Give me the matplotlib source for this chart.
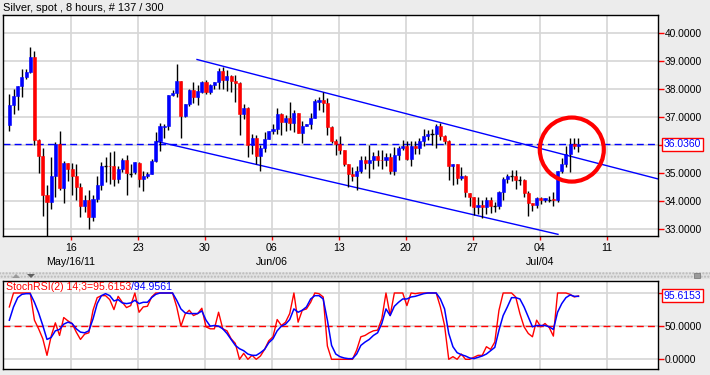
import matplotlib
matplotlib.use('Agg')
import matplotlib.pyplot as plt
import matplotlib.transforms as mtrans
from matplotlib.patches import Ellipse, Rectangle, Polygon
import numpy as np

plt.rcParams['font.family'] = ['Liberation Sans', 'DejaVu Sans']

# ---------------- data ----------------
title = "Silver, spot , 8 hours, # 137 / 300"
opens = [36.71, 37.43, 37.75, 38.11, 38.44, 38.62, 39.16, 36.17, 35.60, 34.20,
         33.96, 34.91, 36.03, 34.46, 35.36, 35.13, 34.89, 34.50, 33.84, 34.02,
         33.44, 34.08, 34.56, 35.25, 35.26, 35.25, 34.77, 35.15, 35.48, 34.98,
         35.03, 35.37, 34.79, 34.91, 34.97, 35.42, 36.15, 36.64, 36.70, 37.78,
         37.87, 38.29, 37.03, 37.46, 37.96, 37.72, 37.90, 38.25, 37.90, 38.14,
         38.25, 38.65, 38.32, 38.47, 38.29, 38.23, 37.10, 37.34, 35.99, 36.25,
         35.60, 35.89, 36.21, 36.49, 36.56, 37.10, 36.83, 36.98, 36.80, 37.13,
         36.45, 36.70, 36.74, 36.98, 37.55, 37.60, 37.51, 36.65, 36.15, 36.05,
         35.81, 35.31, 34.95, 34.89, 35.07, 35.48, 35.36, 35.48, 35.60, 35.48,
         35.46, 35.57, 35.09, 35.63, 35.89, 35.97, 35.51, 35.97, 35.89, 36.13,
         36.33, 36.38, 36.38, 36.67, 36.31, 36.15, 35.27, 35.31, 34.82, 34.91,
         34.30, 34.14, 33.78, 33.87, 33.78, 34.05, 33.84, 33.84, 34.32, 34.77,
         34.88, 34.88, 34.76, 34.76, 34.28, 33.92, 33.86, 34.11, 34.04, 34.05,
         34.07, 34.02, 35.06, 35.33, 35.69, 36.05, 35.97]
highs = [37.82, 37.99, 38.11, 38.72, 38.72, 39.52, 39.38, 36.20, 35.89, 34.59,
         35.57, 36.10, 36.49, 35.43, 35.37, 35.37, 35.31, 34.64, 34.20, 34.40,
         34.23, 34.91, 35.39, 35.57, 35.75, 35.78, 35.25, 35.55, 35.63, 35.33,
         35.40, 35.40, 35.09, 35.03, 35.51, 36.47, 36.79, 36.77, 37.80, 37.96,
         38.90, 38.30, 37.46, 37.99, 38.25, 38.15, 38.29, 38.32, 38.18, 38.26,
         38.74, 38.80, 38.68, 38.50, 38.50, 38.25, 37.46, 37.35, 36.40, 36.35,
         35.99, 36.47, 36.50, 36.77, 37.31, 37.16, 37.06, 37.55, 37.25, 37.16,
         36.86, 36.75, 37.13, 37.64, 37.72, 37.90, 37.70, 36.67, 36.23, 36.31,
         35.81, 35.33, 35.21, 35.27, 35.60, 35.60, 35.99, 35.75, 35.84, 35.81,
         35.72, 35.72, 35.93, 35.96, 36.19, 36.15, 36.15, 36.15, 36.27, 36.56,
         36.55, 36.59, 36.74, 36.79, 36.35, 36.17, 35.32, 35.32, 35.21, 34.92,
         34.30, 34.16, 34.16, 34.04, 34.14, 34.14, 33.96, 34.35, 34.85, 34.95,
         35.12, 35.12, 34.91, 34.77, 34.35, 33.93, 34.14, 34.14, 34.11, 34.17,
         34.33, 35.07, 35.54, 35.95, 36.25, 36.27, 36.27]
lows = [36.50, 37.10, 37.27, 37.72, 38.35, 38.56, 35.99, 35.00, 33.48, 32.72,
        33.72, 34.14, 34.40, 33.92, 34.71, 34.23, 34.02, 33.44, 33.60, 32.99,
        33.28, 33.98, 34.38, 34.67, 34.61, 34.52, 34.65, 35.05, 34.22, 34.85,
        34.97, 34.50, 34.35, 34.83, 34.97, 35.40, 35.79, 36.27, 36.53, 37.75,
        37.72, 36.25, 36.99, 37.40, 37.49, 37.43, 37.87, 37.81, 37.84, 38.02,
        37.99, 37.99, 37.94, 37.90, 37.54, 36.37, 36.92, 35.57, 35.69, 35.31,
        35.07, 35.75, 36.20, 36.41, 36.41, 36.35, 36.49, 36.53, 36.46, 36.45,
        36.07, 36.69, 36.56, 36.98, 37.27, 37.20, 36.35, 36.07, 35.66, 35.69,
        35.27, 34.50, 34.73, 34.40, 35.00, 35.15, 34.83, 35.15, 35.27, 35.13,
        35.27, 34.95, 34.93, 35.48, 35.84, 35.48, 35.27, 35.69, 35.69, 35.96,
        36.17, 36.02, 35.89, 36.19, 36.03, 34.76, 34.59, 34.61, 34.76, 34.14,
        33.84, 33.51, 33.54, 33.39, 33.54, 33.56, 33.60, 33.72, 34.02, 34.65,
        34.73, 34.44, 34.59, 34.14, 33.48, 33.63, 33.74, 33.90, 33.96, 33.96,
        33.84, 33.96, 35.00, 35.21, 35.03, 35.87, 35.75]
closes = [37.43, 37.75, 38.11, 38.44, 38.62, 39.16, 36.17, 35.60, 34.20, 33.96,
          34.91, 36.03, 34.46, 35.37, 35.13, 34.89, 34.50, 33.84, 34.02, 33.44,
          34.08, 34.56, 35.27, 35.25, 35.24, 34.77, 35.15, 35.48, 35.00, 34.98,
          35.39, 34.79, 34.91, 34.97, 35.42, 36.15, 36.67, 36.70, 37.78, 37.87,
          38.29, 37.03, 37.46, 37.96, 37.72, 37.93, 38.25, 37.90, 38.14, 38.25,
          38.65, 38.32, 38.47, 38.29, 38.23, 37.10, 37.34, 35.99, 36.25, 35.60,
          35.89, 36.21, 36.49, 36.56, 37.10, 36.83, 36.98, 36.80, 37.13, 36.45,
          36.70, 36.74, 36.98, 37.57, 37.60, 37.51, 36.65, 36.15, 36.05, 35.81,
          35.31, 34.95, 34.89, 35.07, 35.48, 35.36, 35.48, 35.60, 35.48, 35.46,
          35.57, 35.09, 35.63, 35.89, 35.97, 35.51, 35.97, 35.89, 36.13, 36.33,
          36.39, 36.38, 36.67, 36.31, 36.15, 35.27, 35.31, 34.82, 34.91, 34.32,
          34.14, 33.78, 33.87, 33.78, 34.05, 33.84, 33.84, 34.32, 34.77, 34.89,
          34.88, 34.76, 34.76, 34.28, 33.92, 33.86, 34.11, 34.04, 34.10, 34.05,
          34.02, 35.06, 35.33, 35.69, 36.05, 35.97, 36.036]
stoch_k = [79, 100, 100, 100, 100, 100, 59, 46, 31, 6,
           35, 55, 36, 63, 58, 54, 41, 30, 38, 40,
           74, 93, 96, 96, 90, 75, 95, 86, 78, 81,
           100, 71, 79, 80, 94, 100, 100, 100, 100, 100,
           79, 50, 68, 74, 66, 69, 77, 49, 46, 46,
           71, 46, 43, 31, 24, 0, 9, 0, 6, 0,
           5, 15, 28, 34, 60, 51, 56, 69, 100, 56,
           74, 76, 86, 100, 99, 94, 20, 0, 0, 0,
           0, 0, 0, 14, 34, 36, 40, 43, 44, 61,
           100, 66, 100, 100, 100, 81, 100, 99, 100, 100,
           100, 100, 100, 79, 51, 0, 4, 0, 8, 0,
           0, 3, 6, 6, 19, 15, 26, 74, 100, 100,
           100, 94, 69, 49, 39, 34, 59, 49, 54, 48,
           35, 100, 100, 100, 98, 94, 95.6153]
stoch_d = [59, 79, 93, 98, 99, 99, 86, 70, 51, 30,
           33, 43, 45, 53, 56, 54, 46, 41, 40, 43,
           61, 84, 96, 99, 96, 88, 90, 85, 84, 85,
           89, 84, 86, 86, 93, 98, 100, 100, 100, 100,
           89, 76, 70, 69, 69, 69, 73, 59, 50, 51,
           50, 46, 39, 30, 21, 16, 13, 8, 6, 6,
           10, 15, 25, 31, 43, 50, 53, 60, 76, 71,
           74, 79, 91, 96, 96, 91, 59, 21, 8, 4,
           2, 1, 1, 8, 21, 26, 30, 36, 40, 54,
           76, 66, 80, 86, 91, 91, 94, 95, 97, 99,
           100, 100, 100, 91, 76, 39, 19, 10, 7, 5,
           2, 1, 3, 5, 8, 13, 18, 44, 66, 79,
           93, 93, 91, 79, 64, 49, 51, 51, 51, 49,
           45, 71, 84, 93, 97, 95, 94.9561]
week_labels = ['16', '23', '30', '06', '13', '20', '27', '04', '11']
month_labels = ['May/16/11', 'Jun/06', 'Jul/04']
month_at_week = [0, 3, 7]
price_ticks = [33, 34, 35, 36, 37, 38, 39, 40]
stoch_ticks = [0, 50, 100]
last_price = 36.036
upper_channel_x = [44.85, 155.0]
upper_channel_y = [39.06, 34.79]
lower_channel_x = [35.3, 131.1]
lower_channel_y = [36.13, 32.81]
highlight_center = (134.4, 35.84)

# ---------------- layout ----------------
W, H = 710, 375
BG = '#ECECEC'
fig = plt.figure(figsize=(W / 100, H / 100), dpi=100, facecolor=BG)


def fx(px):
    return px / W


def fy(py):
    return 1 - py / H


ax1 = fig.add_axes([fx(3.3), fy(236), fx(658 - 3.3), (236 - 15.3) / H])
ax2 = fig.add_axes([fx(3.3), fy(369), fx(658 - 3.3), (369 - 281) / H])

n = len(closes)
xs = np.arange(n)
week_pos = [14.74 + 16 * k for k in range(len(week_labels))]
GRID = '#D6D6D6'

for ax in (ax1, ax2):
    ax.set_facecolor('white')
    ax.set_xlim(-1.44, 155.0)
    for s in ax.spines.values():
        s.set_color('black')
        s.set_linewidth(1.0)
    for p in week_pos:
        ax.axvline(p, color=GRID, lw=1.2, zorder=0)

# ---- price panel ----
ax1.set_ylim(32.75, 40.64)
for v in price_ticks:
    ax1.axhline(v, color=GRID, lw=1.2, zorder=0)

ax1.plot(upper_channel_x, upper_channel_y, color='#0000FF', lw=1.0, zorder=1)
ax1.plot(lower_channel_x, lower_channel_y, color='#0000FF', lw=1.0, zorder=1)
ax1.axhline(last_price, color='#0000FF', lw=1.0, dashes=(5, 3), zorder=1)

o = np.array(opens); c = np.array(closes); h = np.array(highs); l = np.array(lows)
ax1.vlines(xs, l, h, color='black', lw=1.0, zorder=2)
up = c > o
dn = c < o
eq = c == o
bw = 0.74
ax1.bar(xs[up], (c - o)[up], bottom=o[up], width=bw, color='#0000FF',
        edgecolor='#0000FF', lw=0.4, zorder=3)
ax1.bar(xs[dn], (c - o)[dn], bottom=o[dn], width=bw, color='#FF0000',
        edgecolor='#FF0000', lw=0.4, zorder=3)
ax1.hlines(o[eq], xs[eq] - bw / 2, xs[eq] + bw / 2, color='black', lw=1.0, zorder=3)

ax1.add_patch(Ellipse(highlight_center, 15.3, 2.29, fill=False,
                      edgecolor='#FF0000', lw=3.0, zorder=4))

# the 36.0000 label is hidden behind the last-price box in the reference
ax1.yaxis.tick_right()
ax1.set_yticks(price_ticks)
ax1.set_yticklabels(['' if v == 36 else f'{v:.4f}' for v in price_ticks])
ax1.tick_params(axis='y', colors='#FF0000', labelcolor='black', length=4,
                width=1, labelsize=7.4, pad=1)
ax1.set_xticks(week_pos)
ax1.set_xticklabels(week_labels)
ax1.tick_params(axis='x', colors='#FF0000', labelcolor='black', length=3,
                width=1, labelsize=7.7, pad=2)
btrans = mtrans.blended_transform_factory(ax1.transData, ax1.transAxes)
for lab, wk in zip(month_labels, month_at_week):
    ax1.text(week_pos[wk], -0.118, lab, transform=btrans, ha='center',
             va='center', fontsize=7.7)

ax1.annotate(f'{last_price:.4f}', xy=(1, last_price),
             xycoords=(ax1.transAxes, ax1.transData),
             xytext=(6, 0), textcoords='offset pixels', ha='left', va='center',
             color='#0000FF', fontsize=7.5,
             bbox=dict(boxstyle='square,pad=0.15', fc='white', ec='#FF0000', lw=1))

# ---- stochastic panel ----
ax2.set_ylim(-14.6, 118.1)
for v in stoch_ticks:
    ax2.axhline(v, color=GRID, lw=1.2, zorder=0)
ax2.axhline(50, color='#FF0000', lw=1.0, dashes=(5, 3), zorder=1)
ax2.plot(xs, stoch_k, color='#FF0000', lw=1.0, zorder=2)
ax2.plot(xs, stoch_d, color='#0000FF', lw=1.1, zorder=3)
ax2.yaxis.tick_right()
ax2.set_yticks(stoch_ticks)
# the 100.0000 label is hidden behind the last-value box in the reference
ax2.set_yticklabels(['' if v == 100 else f'{v:.4f}' for v in stoch_ticks])
ax2.tick_params(axis='y', colors='#FF0000', labelcolor='black', length=4,
                width=1, labelsize=7.4, pad=1)
ax2.set_xticks([])

ax2.annotate(f'{stoch_k[-1]:.4f}', xy=(1, stoch_k[-1]),
             xycoords=(ax2.transAxes, ax2.transData),
             xytext=(6, 0), textcoords='offset pixels', ha='left', va='center',
             color='#0000FF', fontsize=7.5, zorder=10,
             bbox=dict(boxstyle='square,pad=0.15', fc='white', ec='#FF0000', lw=1))

t1 = ax2.text(0.004, 0.99, f'StochRSI(2) 14;3={stoch_k[-1]:.4f}', transform=ax2.transAxes,
              ha='left', va='top', color='#FF0000', fontsize=7.6, zorder=5)
fig.canvas.draw()
bb = t1.get_window_extent()
inv = ax2.transAxes.inverted()
x_end = inv.transform((bb.x1, bb.y1))[0]
ax2.text(x_end, 0.99, f'/{stoch_d[-1]:.4f}', transform=ax2.transAxes,
         ha='left', va='top', color='#0000FF', fontsize=7.6, zorder=5)

# ---- title and separator ----
fig.text(fx(3), fy(8), title, ha='left', va='center', fontsize=7.9)
fig.patches.append(Rectangle((0, fy(279)), 1, (279 - 272) / H, transform=fig.transFigure,
                             facecolor='#E2E2E2', edgecolor='#B8B8B8', hatch='.....',
                             lw=0, zorder=0))
fig.patches.append(Polygon([(fx(12), fy(278)), (fx(20), fy(278)), (fx(16), fy(274))],
                           closed=True, transform=fig.transFigure, fc='#9A9A9A', ec='none'))
fig.patches.append(Polygon([(fx(27), fy(274)), (fx(35), fy(274)), (fx(31), fy(278))],
                           closed=True, transform=fig.transFigure, fc='#606060', ec='none'))
fig.patches.append(Rectangle((fx(694), fy(278)), fx(6), 5 / H, transform=fig.transFigure,
                             fc='#9A9A9A', ec='#707070', lw=0.5))

fig.savefig('out.png', dpi=100, facecolor=BG)
